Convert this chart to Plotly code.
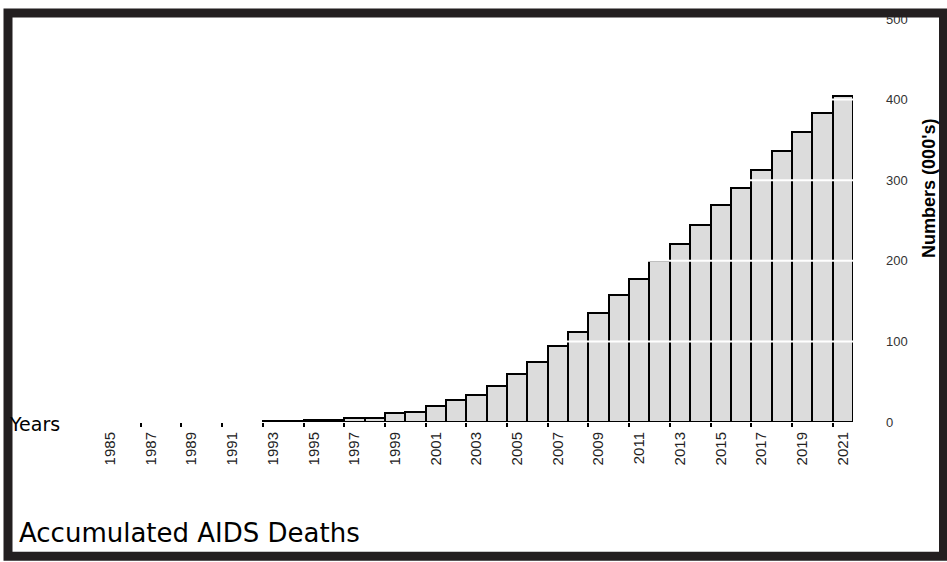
import plotly.graph_objects as go

# Accumulated AIDS deaths (thousands), by year
years = list(range(1993, 2022))
deaths = [1, 1, 2, 2, 5, 5, 11, 13, 20, 27, 34, 45, 60, 75, 94,
          112, 135, 157, 177, 200, 221, 245, 269, 290, 313, 336, 360, 383, 404]

label_years = list(range(1985, 2022, 2))
label_text = [str(y) for y in label_years]
tick_marks = [y - 0.5 for y in range(1987, 2022, 2)]
y_ticks = [0, 100, 200, 300, 400, 500]

W, H = 947, 562
L, R, T, B = 100, 94, 14, 140
PW, PH = W - L - R, H - T - B


def px_x(p):
    return (p - L) / PW


def px_y(p):
    return (H - B - p) / PH


fig = go.Figure()
fig.add_trace(go.Bar(
    x=years, y=deaths, width=1,
    marker=dict(color="#dcdcdc", line=dict(color="#000000", width=2)),
    hoverinfo="x+y",
))

# white gridlines drawn over the bars
shapes = [
    dict(type="line", xref="paper", yref="y", x0=0, x1=1, y0=v, y1=v,
         line=dict(color="#ffffff", width=2), layer="above")
    for v in y_ticks[1:-1]
]
# heavy outer frame
shapes.append(dict(type="rect", xref="paper", yref="paper",
                   x0=px_x(8), x1=px_x(943.5), y0=px_y(558), y1=px_y(8),
                   line=dict(color="#231f20", width=9), fillcolor="rgba(0,0,0,0)",
                   layer="above"))

annotations = [
    dict(text="Years", xref="paper", yref="paper", x=px_x(7), y=px_y(424),
         xanchor="left", yanchor="middle", showarrow=False,
         font=dict(family="DejaVu Sans", size=19, color="#000")),
    dict(text="Accumulated AIDS Deaths", xref="paper", yref="paper",
         x=px_x(17), y=px_y(534), xanchor="left", yanchor="middle", showarrow=False,
         font=dict(family="DejaVu Sans", size=26, color="#000")),
    dict(text="<b>Numbers (000's)</b>", xref="paper", yref="paper",
         x=px_x(929), y=px_y(185), xanchor="center", yanchor="middle",
         textangle=-90, showarrow=False,
         font=dict(family="Liberation Sans", size=18, color="#000")),
]

fig.update_layout(
    width=W, height=H,
    margin=dict(l=L, r=R, t=T, b=B, pad=0),
    paper_bgcolor="#ffffff", plot_bgcolor="#ffffff",
    bargap=0, showlegend=False,
    shapes=shapes, annotations=annotations,
    xaxis=dict(
        range=[1984.5, 2021.5], tickmode="array", tickvals=label_years,
        ticktext=label_text, tickangle=-90, ticks="", showgrid=False,
        zeroline=False, showline=False, ticklabelstandoff=6,
        tickfont=dict(family="Liberation Sans", size=15, color="#222"),
        minor=dict(tickmode="array", tickvals=tick_marks, ticks="outside",
                   ticklen=4, tickwidth=2, tickcolor="#000", showgrid=False),
    ),
    yaxis=dict(
        range=[0, 500], side="right", tickmode="array", tickvals=y_ticks,
        ticks="", showgrid=False, zeroline=False, showline=False,
        ticklabelstandoff=32,
        tickfont=dict(family="Liberation Sans", size=13, color="#333"),
    ),
)

fig.write_html("out.html")
